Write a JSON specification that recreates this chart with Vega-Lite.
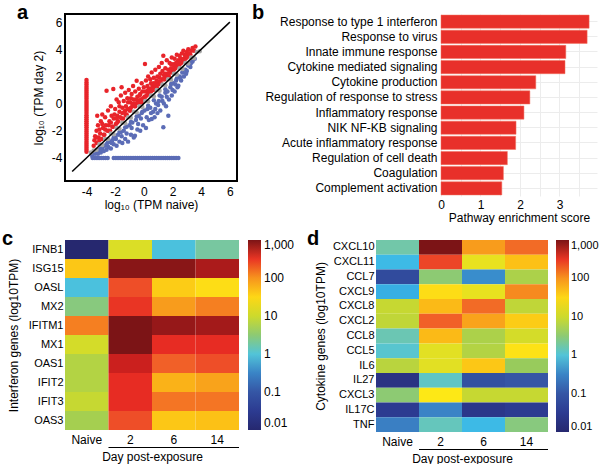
{
"$schema": "https://vega.github.io/schema/vega-lite/v6.json",
"padding": {"left": 2, "top": 2, "right": 0, "bottom": 0},
"background": "white",
"config": {
  "font": "Liberation Sans",
  "view": {"stroke": null},
  "axis": {"labelColor": "#000", "titleColor": "#000", "labelFontSize": 12, "titleFontSize": 12, "titleFontWeight": "normal", "labelFont": "Liberation Sans", "titleFont": "Liberation Sans", "labelOverlap": false},
  "legend": {"labelColor": "#000", "labelFontSize": 12, "labelFont": "Liberation Sans"},
  "title": {"fontSize": 20, "fontWeight": "bold", "anchor": "start", "frame": "group", "color": "#000", "font": "Liberation Sans", "offset": -9}
},
"datasets": {
  "scatter": [
    {"x":-3.5,"y":-3.1,"c":"up"},{"x":-3.45,"y":-2.7,"c":"up"},{"x":-3.4,"y":-2.4,"c":"up"},{"x":-3.3,"y":-2.9,"c":"up"},{"x":-3.3,"y":-2.0,"c":"up"},{"x":-3.25,"y":-0.9,"c":"up"},{"x":-3.2,"y":-1.6,"c":"up"},{"x":-3.15,"y":-2.5,"c":"up"},{"x":-3.05,"y":-2.2,"c":"up"},{"x":-3.0,"y":-1.3,"c":"up"},{"x":-2.95,"y":-2.6,"c":"up"},{"x":-2.9,"y":-0.8,"c":"up"},{"x":-2.85,"y":-1.8,"c":"up"},{"x":-2.75,"y":-2.3,"c":"up"},{"x":-2.7,"y":-1.0,"c":"up"},{"x":-2.65,"y":-1.6,"c":"up"},{"x":-2.6,"y":0.95,"c":"up"},{"x":-2.55,"y":-2.0,"c":"up"},{"x":-2.5,"y":-0.5,"c":"up"},{"x":-2.4,"y":-1.3,"c":"up"},{"x":-2.35,"y":-2.0,"c":"up"},{"x":-2.3,"y":-0.2,"c":"up"},{"x":-2.25,"y":-0.9,"c":"up"},{"x":-2.2,"y":-1.7,"c":"up"},{"x":-2.13,"y":1.08,"c":"up"},{"x":-2.1,"y":-1.1,"c":"up"},{"x":-2.0,"y":-0.4,"c":"up"},{"x":-1.95,"y":-1.5,"c":"up"},{"x":-1.9,"y":0.3,"c":"up"},{"x":-1.85,"y":-0.9,"c":"up"},{"x":-1.8,"y":-1.3,"c":"up"},{"x":-1.75,"y":0.1,"c":"up"},{"x":-1.7,"y":-0.6,"c":"up"},{"x":-1.65,"y":-1.0,"c":"up"},{"x":-1.6,"y":0.6,"c":"up"},{"x":-1.55,"y":1.2,"c":"up"},{"x":-1.5,"y":-0.3,"c":"up"},{"x":-1.45,"y":-1.1,"c":"up"},{"x":-1.4,"y":0.2,"c":"up"},{"x":-1.35,"y":-0.6,"c":"up"},{"x":-1.3,"y":0.8,"c":"up"},{"x":-1.25,"y":-0.2,"c":"up"},{"x":-1.2,"y":-0.8,"c":"up"},{"x":-1.15,"y":0.4,"c":"up"},{"x":-1.1,"y":-0.4,"c":"up"},{"x":-1.05,"y":1.0,"c":"up"},{"x":-1.0,"y":-0.5,"c":"up"},{"x":-0.95,"y":0.1,"c":"up"},{"x":-0.9,"y":-0.3,"c":"up"},{"x":-0.85,"y":0.7,"c":"up"},{"x":-0.8,"y":-0.1,"c":"up"},{"x":-0.75,"y":1.3,"c":"up"},{"x":-0.7,"y":0.3,"c":"up"},{"x":-0.65,"y":-0.2,"c":"up"},{"x":-0.6,"y":0.9,"c":"up"},{"x":-0.55,"y":0.0,"c":"up"},{"x":-0.5,"y":1.69,"c":"up"},{"x":-0.45,"y":0.5,"c":"up"},{"x":-0.4,"y":0.2,"c":"up"},{"x":-0.35,"y":1.1,"c":"up"},{"x":-0.3,"y":0.0,"c":"up"},{"x":-0.25,"y":0.7,"c":"up"},{"x":-0.2,"y":0.3,"c":"up"},{"x":-0.15,"y":1.5,"c":"up"},{"x":-0.1,"y":0.9,"c":"up"},{"x":-0.05,"y":0.4,"c":"up"},{"x":0.0,"y":1.2,"c":"up"},{"x":0.05,"y":0.5,"c":"up"},{"x":0.08,"y":2.92,"c":"up"},{"x":0.1,"y":0.9,"c":"up"},{"x":0.15,"y":1.7,"c":"up"},{"x":0.2,"y":0.6,"c":"up"},{"x":0.25,"y":1.3,"c":"up"},{"x":0.3,"y":2.0,"c":"up"},{"x":0.35,"y":0.8,"c":"up"},{"x":0.4,"y":1.1,"c":"up"},{"x":0.45,"y":1.8,"c":"up"},{"x":0.5,"y":0.9,"c":"up"},{"x":0.55,"y":2.3,"c":"up"},{"x":0.6,"y":1.3,"c":"up"},{"x":0.65,"y":1.0,"c":"up"},{"x":0.7,"y":1.9,"c":"up"},{"x":0.75,"y":1.2,"c":"up"},{"x":0.8,"y":2.5,"c":"up"},{"x":0.85,"y":1.5,"c":"up"},{"x":0.9,"y":1.2,"c":"up"},{"x":0.95,"y":2.0,"c":"up"},{"x":1.0,"y":1.4,"c":"up"},{"x":1.05,"y":2.7,"c":"up"},{"x":1.1,"y":1.6,"c":"up"},{"x":1.15,"y":2.2,"c":"up"},{"x":1.2,"y":1.5,"c":"up"},{"x":1.25,"y":3.0,"c":"up"},{"x":1.3,"y":1.8,"c":"up"},{"x":1.36,"y":3.53,"c":"up"},{"x":1.4,"y":2.1,"c":"up"},{"x":1.45,"y":1.8,"c":"up"},{"x":1.5,"y":2.6,"c":"up"},{"x":1.55,"y":2.0,"c":"up"},{"x":1.6,"y":3.2,"c":"up"},{"x":1.65,"y":2.1,"c":"up"},{"x":1.7,"y":2.5,"c":"up"},{"x":1.75,"y":2.0,"c":"up"},{"x":1.8,"y":3.0,"c":"up"},{"x":1.85,"y":2.3,"c":"up"},{"x":1.9,"y":2.6,"c":"up"},{"x":1.95,"y":3.4,"c":"up"},{"x":2.0,"y":2.4,"c":"up"},{"x":2.05,"y":2.9,"c":"up"},{"x":2.1,"y":2.5,"c":"up"},{"x":2.15,"y":3.3,"c":"up"},{"x":2.2,"y":2.6,"c":"up"},{"x":2.25,"y":3.0,"c":"up"},{"x":2.3,"y":3.6,"c":"up"},{"x":2.35,"y":2.8,"c":"up"},{"x":2.4,"y":3.2,"c":"up"},{"x":2.45,"y":2.8,"c":"up"},{"x":2.5,"y":3.5,"c":"up"},{"x":2.55,"y":3.0,"c":"up"},{"x":2.6,"y":3.3,"c":"up"},{"x":2.65,"y":3.7,"c":"up"},{"x":2.7,"y":3.1,"c":"up"},{"x":2.76,"y":3.9,"c":"up"},{"x":2.8,"y":3.3,"c":"up"},{"x":2.85,"y":3.6,"c":"up"},{"x":2.9,"y":3.3,"c":"up"},{"x":3.0,"y":3.8,"c":"up"},{"x":3.05,"y":3.5,"c":"up"},{"x":3.1,"y":4.0,"c":"up"},{"x":3.2,"y":3.6,"c":"up"},{"x":3.3,"y":3.9,"c":"up"},{"x":3.4,"y":4.1,"c":"up"},{"x":3.5,"y":3.9,"c":"up"},{"x":3.6,"y":4.2,"c":"up"},
    {"x":-3.1,"y":-2.7,"c":"up"},{"x":-2.8,"y":-2.3,"c":"up"},{"x":-2.45,"y":-2.0,"c":"up"},{"x":-2.15,"y":-1.7,"c":"up"},{"x":-1.85,"y":-1.4,"c":"up"},{"x":-1.55,"y":-1.1,"c":"up"},{"x":-1.25,"y":-0.85,"c":"up"},{"x":-0.95,"y":-0.5,"c":"up"},{"x":-0.6,"y":-0.2,"c":"up"},{"x":-0.35,"y":0.1,"c":"up"},{"x":-0.05,"y":0.3,"c":"up"},{"x":0.3,"y":0.7,"c":"up"},{"x":0.6,"y":1.05,"c":"up"},{"x":0.85,"y":1.3,"c":"up"},{"x":1.15,"y":1.55,"c":"up"},{"x":1.4,"y":1.8,"c":"up"},{"x":1.65,"y":2.05,"c":"up"},{"x":1.9,"y":2.3,"c":"up"},{"x":2.2,"y":2.65,"c":"up"},{"x":2.5,"y":2.9,"c":"up"},{"x":2.75,"y":3.15,"c":"up"},{"x":3.0,"y":3.4,"c":"up"},{"x":3.25,"y":3.6,"c":"up"},
    {"x":-3.3,"y":-2.5,"c":"up"},{"x":-3.1,"y":-1.9,"c":"up"},{"x":-2.9,"y":-1.5,"c":"up"},{"x":-2.7,"y":-1.9,"c":"up"},{"x":-2.45,"y":-1.6,"c":"up"},{"x":-2.3,"y":-1.4,"c":"up"},{"x":-2.05,"y":-0.8,"c":"up"},{"x":-1.9,"y":-1.1,"c":"up"},{"x":-1.7,"y":-0.2,"c":"up"},{"x":-1.5,"y":-0.7,"c":"up"},{"x":-1.3,"y":-0.5,"c":"up"},{"x":-1.1,"y":0.1,"c":"up"},{"x":-0.9,"y":0.4,"c":"up"},{"x":-0.7,"y":-0.0,"c":"up"},{"x":-0.5,"y":0.3,"c":"up"},{"x":-0.3,"y":0.6,"c":"up"},{"x":-0.1,"y":0.1,"c":"up"},{"x":0.1,"y":0.5,"c":"up"},{"x":0.3,"y":1.0,"c":"up"},{"x":0.5,"y":1.5,"c":"up"},{"x":0.7,"y":1.5,"c":"up"},{"x":0.9,"y":1.7,"c":"up"},{"x":1.1,"y":1.9,"c":"up"},{"x":1.3,"y":2.4,"c":"up"},{"x":1.5,"y":2.2,"c":"up"},{"x":1.7,"y":2.2,"c":"up"},{"x":1.9,"y":2.9,"c":"up"},{"x":2.1,"y":2.8,"c":"up"},{"x":2.3,"y":3.0,"c":"up"},{"x":2.6,"y":3.0,"c":"up"},{"x":2.9,"y":3.5,"c":"up"},{"x":3.15,"y":3.7,"c":"up"},
    {"x":-4,"y":-3.55,"c":"up"},{"x":-4,"y":-3.4,"c":"up"},{"x":-4,"y":-3.25,"c":"up"},{"x":-4,"y":-3.1,"c":"up"},{"x":-4,"y":-2.95,"c":"up"},{"x":-4,"y":-2.8,"c":"up"},{"x":-4,"y":-2.65,"c":"up"},{"x":-4,"y":-2.5,"c":"up"},{"x":-4,"y":-2.35,"c":"up"},{"x":-4,"y":-2.2,"c":"up"},{"x":-4,"y":-2.05,"c":"up"},{"x":-4,"y":-1.9,"c":"up"},{"x":-4,"y":-1.75,"c":"up"},{"x":-4,"y":-1.6,"c":"up"},{"x":-4,"y":-1.45,"c":"up"},{"x":-4,"y":-1.3,"c":"up"},{"x":-4,"y":-1.15,"c":"up"},{"x":-4,"y":-1.0,"c":"up"},{"x":-4,"y":-0.85,"c":"up"},{"x":-4,"y":-0.7,"c":"up"},{"x":-4,"y":-0.55,"c":"up"},{"x":-4,"y":-0.4,"c":"up"},{"x":-4,"y":-0.25,"c":"up"},{"x":-4,"y":-0.1,"c":"up"},{"x":-4,"y":0.05,"c":"up"},{"x":-4,"y":0.2,"c":"up"},{"x":-4,"y":0.35,"c":"up"},{"x":-4,"y":0.5,"c":"up"},{"x":-4,"y":0.65,"c":"up"},{"x":-4,"y":0.8,"c":"up"},{"x":-4,"y":0.95,"c":"up"},{"x":-4,"y":1.1,"c":"up"},{"x":-4,"y":1.25,"c":"up"},{"x":-4,"y":1.4,"c":"up"},{"x":-4,"y":1.55,"c":"up"},{"x":-4,"y":1.74,"c":"up"},
    {"x":-3.6,"y":-3.85,"c":"down"},{"x":-3.5,"y":-3.6,"c":"down"},{"x":-3.4,"y":-3.7,"c":"down"},{"x":-3.3,"y":-3.55,"c":"down"},{"x":-3.2,"y":-3.7,"c":"down"},{"x":-3.1,"y":-3.4,"c":"down"},{"x":-3.0,"y":-3.6,"c":"down"},{"x":-2.9,"y":-3.3,"c":"down"},{"x":-2.8,"y":-3.5,"c":"down"},{"x":-2.7,"y":-3.1,"c":"down"},{"x":-2.6,"y":-3.4,"c":"down"},{"x":-2.48,"y":-3.2,"c":"down"},{"x":-2.4,"y":-2.8,"c":"down"},{"x":-2.3,"y":-3.3,"c":"down"},{"x":-2.2,"y":-2.7,"c":"down"},{"x":-2.1,"y":-3.0,"c":"down"},{"x":-2.0,"y":-2.5,"c":"down"},{"x":-1.9,"y":-3.1,"c":"down"},{"x":-1.8,"y":-2.3,"c":"down"},{"x":-1.7,"y":-2.8,"c":"down"},{"x":-1.6,"y":-2.1,"c":"down"},{"x":-1.5,"y":-2.9,"c":"down"},{"x":-1.4,"y":-2.0,"c":"down"},{"x":-1.3,"y":-2.6,"c":"down"},{"x":-1.2,"y":-1.7,"c":"down"},{"x":-1.1,"y":-2.8,"c":"down"},{"x":-1.0,"y":-1.6,"c":"down"},{"x":-0.9,"y":-2.3,"c":"down"},{"x":-0.8,"y":-1.4,"c":"down"},{"x":-0.7,"y":-2.5,"c":"down"},{"x":-0.62,"y":-2.36,"c":"down"},{"x":-0.55,"y":-1.2,"c":"down"},{"x":-0.45,"y":-1.9,"c":"down"},{"x":-0.35,"y":-0.9,"c":"down"},{"x":-0.25,"y":-2.0,"c":"down"},{"x":-0.15,"y":-0.7,"c":"down"},{"x":-0.05,"y":-1.6,"c":"down"},{"x":0.05,"y":-0.5,"c":"down"},{"x":0.15,"y":-1.8,"c":"down"},{"x":0.25,"y":-0.4,"c":"down"},{"x":0.35,"y":-1.2,"c":"down"},{"x":0.45,"y":-0.3,"c":"down"},{"x":0.55,"y":-1.13,"c":"down"},{"x":0.65,"y":-0.6,"c":"down"},{"x":0.75,"y":-1.0,"c":"down"},{"x":0.85,"y":0.0,"c":"down"},{"x":0.95,"y":-0.7,"c":"down"},{"x":1.05,"y":0.2,"c":"down"},{"x":1.15,"y":-0.5,"c":"down"},{"x":1.25,"y":0.5,"c":"down"},{"x":1.36,"y":-1.74,"c":"down"},{"x":1.4,"y":0.0,"c":"down"},{"x":1.5,"y":0.8,"c":"down"},{"x":1.55,"y":-0.2,"c":"down"},{"x":1.65,"y":0.9,"c":"down"},{"x":1.71,"y":-0.89,"c":"down"},{"x":1.75,"y":0.3,"c":"down"},{"x":1.85,"y":1.2,"c":"down"},{"x":1.95,"y":0.6,"c":"down"},{"x":2.05,"y":1.5,"c":"down"},{"x":2.15,"y":0.9,"c":"down"},{"x":2.25,"y":1.7,"c":"down"},{"x":2.35,"y":1.2,"c":"down"},{"x":2.41,"y":1.32,"c":"down"},{"x":2.5,"y":2.0,"c":"down"},{"x":2.6,"y":1.7,"c":"down"},{"x":2.7,"y":2.3,"c":"down"},{"x":2.8,"y":2.0,"c":"down"},{"x":2.9,"y":2.5,"c":"down"},{"x":3.0,"y":2.4,"c":"down"},{"x":3.1,"y":2.8,"c":"down"},{"x":3.2,"y":2.85,"c":"down"},{"x":3.3,"y":3.0,"c":"down"},{"x":3.4,"y":3.1,"c":"down"},{"x":3.55,"y":3.3,"c":"down"},
    {"x":-3.3,"y":-3.6,"c":"down"},{"x":-2.9,"y":-3.25,"c":"down"},{"x":-2.5,"y":-2.85,"c":"down"},{"x":-2.1,"y":-2.5,"c":"down"},{"x":-1.7,"y":-2.1,"c":"down"},{"x":-1.3,"y":-1.75,"c":"down"},{"x":-0.9,"y":-1.35,"c":"down"},{"x":-0.5,"y":-0.95,"c":"down"},{"x":-0.1,"y":-0.6,"c":"down"},{"x":0.3,"y":-0.15,"c":"down"},{"x":0.7,"y":0.25,"c":"down"},{"x":1.1,"y":0.6,"c":"down"},{"x":1.5,"y":1.05,"c":"down"},{"x":1.9,"y":1.45,"c":"down"},{"x":2.3,"y":1.85,"c":"down"},{"x":2.7,"y":2.3,"c":"down"},
    {"x":-3.0,"y":-3.35,"c":"down"},{"x":-2.6,"y":-3.0,"c":"down"},{"x":-2.25,"y":-2.9,"c":"down"},{"x":-1.95,"y":-2.6,"c":"down"},{"x":-1.55,"y":-2.4,"c":"down"},{"x":-1.2,"y":-2.2,"c":"down"},{"x":-0.85,"y":-1.8,"c":"down"},{"x":-0.4,"y":-1.5,"c":"down"},{"x":-0.2,"y":-1.1,"c":"down"},{"x":0.2,"y":-1.0,"c":"down"},{"x":0.5,"y":-0.7,"c":"down"},{"x":0.8,"y":-0.4,"c":"down"},{"x":1.0,"y":-0.1,"c":"down"},{"x":1.3,"y":0.2,"c":"down"},{"x":1.6,"y":0.5,"c":"down"},{"x":2.0,"y":1.0,"c":"down"},{"x":2.2,"y":1.4,"c":"down"},{"x":2.55,"y":1.9,"c":"down"},{"x":2.95,"y":2.2,"c":"down"},{"x":3.25,"y":2.7,"c":"down"},
    {"x":-3.57,"y":-4,"c":"down"},{"x":-3.42,"y":-4,"c":"down"},{"x":-3.27,"y":-4,"c":"down"},{"x":-3.12,"y":-4,"c":"down"},{"x":-2.97,"y":-4,"c":"down"},{"x":-2.82,"y":-4,"c":"down"},{"x":-2.67,"y":-4,"c":"down"},{"x":-2.52,"y":-4,"c":"down"},{"x":-2.1,"y":-4,"c":"down"},{"x":-1.95,"y":-4,"c":"down"},{"x":-1.8,"y":-4,"c":"down"},{"x":-1.65,"y":-4,"c":"down"},{"x":-1.5,"y":-4,"c":"down"},{"x":-1.35,"y":-4,"c":"down"},{"x":-1.2,"y":-4,"c":"down"},{"x":-1.05,"y":-4,"c":"down"},{"x":-0.9,"y":-4,"c":"down"},{"x":-0.75,"y":-4,"c":"down"},{"x":-0.6,"y":-4,"c":"down"},{"x":-0.45,"y":-4,"c":"down"},{"x":-0.3,"y":-4,"c":"down"},{"x":-0.15,"y":-4,"c":"down"},{"x":0.0,"y":-4,"c":"down"},{"x":0.15,"y":-4,"c":"down"},{"x":0.3,"y":-4,"c":"down"},{"x":0.45,"y":-4,"c":"down"},{"x":0.6,"y":-4,"c":"down"},{"x":0.75,"y":-4,"c":"down"},{"x":0.9,"y":-4,"c":"down"},{"x":1.05,"y":-4,"c":"down"},{"x":1.2,"y":-4,"c":"down"},{"x":1.35,"y":-4,"c":"down"},{"x":1.5,"y":-4,"c":"down"},{"x":1.65,"y":-4,"c":"down"},{"x":1.8,"y":-4,"c":"down"},{"x":1.95,"y":-4,"c":"down"},{"x":2.1,"y":-4,"c":"down"},{"x":2.25,"y":-4,"c":"down"},{"x":2.41,"y":-4,"c":"down"},
    {"x":-3.7,"y":-3.6,"c":"ns"},{"x":-3.5,"y":-3.45,"c":"ns"},{"x":-3.3,"y":-3.4,"c":"ns"},{"x":-3.1,"y":-3.0,"c":"ns"},{"x":-2.9,"y":-3.05,"c":"ns"},{"x":-2.7,"y":-2.6,"c":"ns"},{"x":-2.5,"y":-2.6,"c":"ns"},{"x":-2.3,"y":-2.2,"c":"ns"},{"x":-2.1,"y":-2.25,"c":"ns"},{"x":-1.9,"y":-1.8,"c":"ns"},{"x":-1.7,"y":-1.85,"c":"ns"},{"x":-1.5,"y":-1.4,"c":"ns"},{"x":-1.3,"y":-1.45,"c":"ns"},{"x":-1.1,"y":-1.0,"c":"ns"},{"x":-0.9,"y":-1.05,"c":"ns"},{"x":-0.7,"y":-0.6,"c":"ns"},{"x":-0.5,"y":-0.65,"c":"ns"},{"x":-0.3,"y":-0.2,"c":"ns"},{"x":-0.1,"y":-0.25,"c":"ns"},{"x":0.1,"y":0.2,"c":"ns"},{"x":0.3,"y":0.15,"c":"ns"},{"x":0.5,"y":0.6,"c":"ns"},{"x":0.7,"y":0.55,"c":"ns"},{"x":0.9,"y":1.0,"c":"ns"},{"x":1.1,"y":0.95,"c":"ns"},{"x":1.3,"y":1.4,"c":"ns"},{"x":1.5,"y":1.35,"c":"ns"},{"x":1.7,"y":1.8,"c":"ns"},{"x":1.9,"y":1.75,"c":"ns"},{"x":2.1,"y":2.2,"c":"ns"},{"x":2.3,"y":2.15,"c":"ns"},{"x":2.5,"y":2.6,"c":"ns"},{"x":2.7,"y":2.55,"c":"ns"},{"x":2.9,"y":3.0,"c":"ns"},{"x":3.1,"y":2.95,"c":"ns"},{"x":3.3,"y":3.4,"c":"ns"},{"x":3.5,"y":3.35,"c":"ns"},{"x":3.7,"y":3.8,"c":"ns"},{"x":3.9,"y":3.85,"c":"ns"}
  ],
  "diag": [{"x": -5, "y": -5}, {"x": 6, "y": 6}],
  "bars": [
    {"pathway": "Response to type 1 interferon", "score": 3.75},
    {"pathway": "Response to virus", "score": 3.7},
    {"pathway": "Innate immune response", "score": 3.16},
    {"pathway": "Cytokine mediated signaling", "score": 3.14},
    {"pathway": "Cytokine production", "score": 2.4},
    {"pathway": "Regulation of response to stress", "score": 2.25},
    {"pathway": "Inflammatory response", "score": 2.1},
    {"pathway": "NIK NF-KB signaling", "score": 1.9},
    {"pathway": "Acute inflammatory response", "score": 1.89},
    {"pathway": "Regulation of cell death", "score": 1.68},
    {"pathway": "Coagulation", "score": 1.58},
    {"pathway": "Complement activation", "score": 1.54}
  ],
  "bracket": [{"from": "2", "to": "14"}],
  "ifn": [
    {"gene":"IFNB1","day":"Naive","v":-2},{"gene":"IFNB1","day":"2","v":1.1},{"gene":"IFNB1","day":"6","v":-0.05},{"gene":"IFNB1","day":"14","v":0.3},
    {"gene":"ISG15","day":"Naive","v":1.65},{"gene":"ISG15","day":"2","v":2.95},{"gene":"ISG15","day":"6","v":2.95},{"gene":"ISG15","day":"14","v":2.82},
    {"gene":"OASL","day":"Naive","v":-0.05},{"gene":"OASL","day":"2","v":2.35},{"gene":"OASL","day":"6","v":1.6},{"gene":"OASL","day":"14","v":1.45},
    {"gene":"MX2","day":"Naive","v":0.45},{"gene":"MX2","day":"2","v":2.5},{"gene":"MX2","day":"6","v":1.95},{"gene":"MX2","day":"14","v":2.1},
    {"gene":"IFITM1","day":"Naive","v":2.1},{"gene":"IFITM1","day":"2","v":3.0},{"gene":"IFITM1","day":"6","v":2.9},{"gene":"IFITM1","day":"14","v":2.85},
    {"gene":"MX1","day":"Naive","v":1.05},{"gene":"MX1","day":"2","v":3.0},{"gene":"MX1","day":"6","v":2.55},{"gene":"MX1","day":"14","v":2.55},
    {"gene":"OAS1","day":"Naive","v":0.8},{"gene":"OAS1","day":"2","v":2.7},{"gene":"OAS1","day":"6","v":2.25},{"gene":"OAS1","day":"14","v":2.35},
    {"gene":"IFIT2","day":"Naive","v":0.8},{"gene":"IFIT2","day":"2","v":2.55},{"gene":"IFIT2","day":"6","v":1.8},{"gene":"IFIT2","day":"14","v":1.9},
    {"gene":"IFIT3","day":"Naive","v":0.95},{"gene":"IFIT3","day":"2","v":2.55},{"gene":"IFIT3","day":"6","v":2.15},{"gene":"IFIT3","day":"14","v":2.15},
    {"gene":"OAS3","day":"Naive","v":0.7},{"gene":"OAS3","day":"2","v":2.35},{"gene":"OAS3","day":"6","v":1.65},{"gene":"OAS3","day":"14","v":1.7}
  ],
  "cyto": [
    {"gene":"CXCL10","day":"Naive","v":0.25},{"gene":"CXCL10","day":"2","v":3.0},{"gene":"CXCL10","day":"6","v":1.95},{"gene":"CXCL10","day":"14","v":2.2},
    {"gene":"CXCL11","day":"Naive","v":-0.15},{"gene":"CXCL11","day":"2","v":2.4},{"gene":"CXCL11","day":"6","v":1.2},{"gene":"CXCL11","day":"14","v":1.7},
    {"gene":"CCL7","day":"Naive","v":-1.2},{"gene":"CCL7","day":"2","v":0.5},{"gene":"CCL7","day":"6","v":-0.45},{"gene":"CCL7","day":"14","v":0.75},
    {"gene":"CXCL9","day":"Naive","v":-0.25},{"gene":"CXCL9","day":"2","v":1.45},{"gene":"CXCL9","day":"6","v":1.2},{"gene":"CXCL9","day":"14","v":2.05},
    {"gene":"CXCL8","day":"Naive","v":0.95},{"gene":"CXCL8","day":"2","v":1.75},{"gene":"CXCL8","day":"6","v":2.2},{"gene":"CXCL8","day":"14","v":0.9},
    {"gene":"CXCL2","day":"Naive","v":0.9},{"gene":"CXCL2","day":"2","v":2.25},{"gene":"CXCL2","day":"6","v":1.9},{"gene":"CXCL2","day":"14","v":1.6},
    {"gene":"CCL8","day":"Naive","v":0.2},{"gene":"CCL8","day":"2","v":1.75},{"gene":"CCL8","day":"6","v":0.75},{"gene":"CCL8","day":"14","v":1.05},
    {"gene":"CCL5","day":"Naive","v":0.05},{"gene":"CCL5","day":"2","v":1.15},{"gene":"CCL5","day":"6","v":0.8},{"gene":"CCL5","day":"14","v":1.4},
    {"gene":"IL6","day":"Naive","v":0.85},{"gene":"IL6","day":"2","v":1.15},{"gene":"IL6","day":"6","v":1.65},{"gene":"IL6","day":"14","v":0.6},
    {"gene":"IL27","day":"Naive","v":-1.7},{"gene":"IL27","day":"2","v":0.1},{"gene":"IL27","day":"6","v":-1.1},{"gene":"IL27","day":"14","v":-1.0},
    {"gene":"CXCL3","day":"Naive","v":0.5},{"gene":"CXCL3","day":"2","v":1.35},{"gene":"CXCL3","day":"6","v":0.95},{"gene":"CXCL3","day":"14","v":0.95},
    {"gene":"IL17C","day":"Naive","v":-1.5},{"gene":"IL17C","day":"2","v":-0.5},{"gene":"IL17C","day":"6","v":-1.6},{"gene":"IL17C","day":"14","v":-1.5},
    {"gene":"TNF","day":"Naive","v":-0.55},{"gene":"TNF","day":"2","v":0.15},{"gene":"TNF","day":"6","v":-0.15},{"gene":"TNF","day":"14","v":0.45}
  ]
},
"concat": [
  {
    "hconcat": [
      {
        "title": {"text": "a", "dx": -48},
        "width": 172, "height": 167,
        "view": {"stroke": "#000", "strokeWidth": 2},
        "encoding": {
          "x": {"field": "x", "type": "quantitative", "scale": {"domain": [-5.5, 6.5], "nice": false, "zero": false},
                "axis": {"values": [-4, -2, 0, 2, 4, 6], "format": "d", "labelExpr": "replace(datum.label, '−', '-')", "labelOverlap": false, "labelFlush": false, "labelBound": false, "grid": false, "ticks": false, "domain": false, "labelPadding": 5, "title": "log₁₀ (TPM naive)", "titlePadding": 2}},
          "y": {"field": "y", "type": "quantitative", "scale": {"domain": [-5.7, 6.6], "nice": false, "zero": false},
                "axis": {"values": [-4, -2, 0, 2, 4, 6], "format": "d", "labelExpr": "replace(datum.label, '−', '-')", "labelOverlap": false, "labelFlush": false, "labelBound": false, "grid": false, "ticks": false, "domain": false, "labelPadding": 3, "title": "log₁₀ (TPM day 2)", "titlePadding": 6}}
        },
        "layer": [
          {
            "data": {"name": "scatter"},
            "mark": {"type": "circle", "size": 20, "opacity": 1},
            "encoding": {
              "color": {"field": "c", "type": "nominal", "scale": {"domain": ["up", "down", "ns"], "range": ["#e8242a", "#5b6cb6", "#a8a8a8"]}, "legend": null}
            }
          },
          {
            "data": {"name": "diag"},
            "mark": {"type": "line", "color": "#000", "strokeWidth": 1.5},
            "encoding": {}
          }
        ]
      },
      {
        "title": {"text": "b", "dx": -189},
        "width": 156, "height": 182,
        "data": {"name": "bars"},
        "mark": {"type": "bar", "color": "#e8302a", "stroke": "#f0705f", "strokeWidth": 0.5},
        "encoding": {
          "y": {"field": "pathway", "type": "nominal", "sort": null, "scale": {"paddingInner": 0.13, "paddingOuter": 0.07},
                "axis": {"title": null, "ticks": false, "domain": false, "labelFontSize": 12, "labelPadding": 4, "grid": true, "gridColor": "#ececec", "bandPosition": 0.5}},
          "x": {"field": "score", "type": "quantitative", "scale": {"domain": [0, 3.95], "nice": false},
                "axis": {"values": [0, 0.5, 1, 1.5, 2, 2.5, 3, 3.5], "labelExpr": "datum.value % 1 == 0 ? '' + datum.value : ''", "labelOverlap": false, "labelFlush": false, "ticks": false, "domain": false, "grid": true, "gridColor": "#ececec", "labelFontSize": 12, "labelPadding": 3, "title": "Pathway enrichment score", "titlePadding": 2}}
        }
      }
    ],
    "spacing": 14,
    "resolve": {"scale": {"color": "independent"}, "legend": {"color": "independent"}}
  },
  {
    "hconcat": [
      {
        "title": {"text": "c", "dx": -63},
        "vconcat": [
          {
            "width": 174, "height": 190,
            "data": {"name": "ifn"},
            "mark": "rect",
            "encoding": {
              "x": {"field": "day", "type": "ordinal", "sort": ["Naive", "2", "6", "14"], "scale": {"paddingInner": 0, "paddingOuter": 0},
                    "axis": {"title": null, "labelAngle": 0, "ticks": false, "domain": false, "labelPadding": 4}},
              "y": {"field": "gene", "type": "ordinal", "sort": ["IFNB1", "ISG15", "OASL", "MX2", "IFITM1", "MX1", "OAS1", "IFIT2", "IFIT3", "OAS3"], "scale": {"paddingInner": 0, "paddingOuter": 0},
                    "axis": {"title": "Interferon genes (log10TPM)", "ticks": false, "domain": false, "labelFontSize": 11, "labelPadding": 2, "titlePadding": 8}},
              "color": {"field": "v", "type": "quantitative",
                        "scale": {"domain": [-2, -1.5, -1, -0.5, -0.2, 0, 0.3, 0.6, 1, 1.35, 1.7, 2, 2.3, 2.6, 3],
                                  "range": ["#26286f", "#2c3b91", "#3556a5", "#3a84c6", "#36b7ea", "#52c4d8", "#78c7a0", "#98cb5c", "#cdda2c", "#fde816", "#fcc116", "#f7941d", "#f0562a", "#e52421", "#7c1416"],
                                  "interpolate": "rgb"},
                        "legend": {"title": null, "values": [-2, -1, 0, 1, 2, 3], "labelExpr": "format(pow(10, datum.value), ',')", "gradientLength": 190, "gradientThickness": 13, "offset": 9, "labelOffset": 3, "labelFontSize": 12, "gradientStrokeWidth": 0}}
            }
          },
          {
            "width": 174, "height": 1,
            "data": {"name": "bracket"},
            "mark": {"type": "rule", "color": "#000", "strokeWidth": 1},
            "encoding": {
              "x": {"field": "from", "type": "ordinal", "bandPosition": 0, "scale": {"domain": ["Naive", "2", "6", "14"], "paddingInner": 0, "paddingOuter": 0},
                    "axis": {"title": "Day post-exposure", "labels": false, "ticks": false, "domain": false, "titlePadding": 3}},
              "x2": {"field": "to", "bandPosition": 1}
            }
          }
        ],
        "spacing": 2,
        "resolve": {"scale": {"color": "independent"}, "legend": {"color": "independent"}}
      },
      {
        "title": {"text": "d", "dx": -69},
        "vconcat": [
          {
            "width": 172, "height": 192,
            "data": {"name": "cyto"},
            "mark": "rect",
            "encoding": {
              "x": {"field": "day", "type": "ordinal", "sort": ["Naive", "2", "6", "14"], "scale": {"paddingInner": 0, "paddingOuter": 0},
                    "axis": {"title": null, "labelAngle": 0, "ticks": false, "domain": false, "labelPadding": 4}},
              "y": {"field": "gene", "type": "ordinal", "sort": ["CXCL10", "CXCL11", "CCL7", "CXCL9", "CXCL8", "CXCL2", "CCL8", "CCL5", "IL6", "IL27", "CXCL3", "IL17C", "TNF"], "scale": {"paddingInner": 0, "paddingOuter": 0},
                    "axis": {"title": "Cytokine genes (log10TPM)", "ticks": false, "domain": false, "labelFontSize": 11, "labelPadding": 2, "titlePadding": 5}},
              "color": {"field": "v", "type": "quantitative",
                        "scale": {"domain": [-2, -1.5, -1, -0.5, -0.2, 0, 0.3, 0.6, 1, 1.35, 1.7, 2, 2.3, 2.6, 3],
                                  "range": ["#26286f", "#2c3b91", "#3556a5", "#3a84c6", "#36b7ea", "#52c4d8", "#78c7a0", "#98cb5c", "#cdda2c", "#fde816", "#fcc116", "#f7941d", "#f0562a", "#e52421", "#7c1416"],
                                  "interpolate": "rgb"},
                        "legend": {"title": null, "values": [-2, -1, 0, 1, 2, 3], "labelExpr": "format(pow(10, datum.value), ',')", "gradientLength": 192, "gradientThickness": 13, "offset": 8, "labelOffset": 2, "labelFontSize": 11, "gradientStrokeWidth": 0}}
            }
          },
          {
            "width": 172, "height": 1,
            "data": {"name": "bracket"},
            "mark": {"type": "rule", "color": "#000", "strokeWidth": 1},
            "encoding": {
              "x": {"field": "from", "type": "ordinal", "bandPosition": 0, "scale": {"domain": ["Naive", "2", "6", "14"], "paddingInner": 0, "paddingOuter": 0},
                    "axis": {"title": "Day post-exposure", "labels": false, "ticks": false, "domain": false, "titlePadding": 3}},
              "x2": {"field": "to", "bandPosition": 1}
            }
          }
        ],
        "spacing": 2,
        "resolve": {"scale": {"color": "independent"}, "legend": {"color": "independent"}}
      }
    ],
    "spacing": 12,
    "resolve": {"scale": {"color": "independent"}, "legend": {"color": "independent"}}
  }
],
"columns": 1,
"align": "none",
"center": false,
"spacing": 6,
"resolve": {"scale": {"color": "independent"}, "legend": {"color": "independent"}}
}
